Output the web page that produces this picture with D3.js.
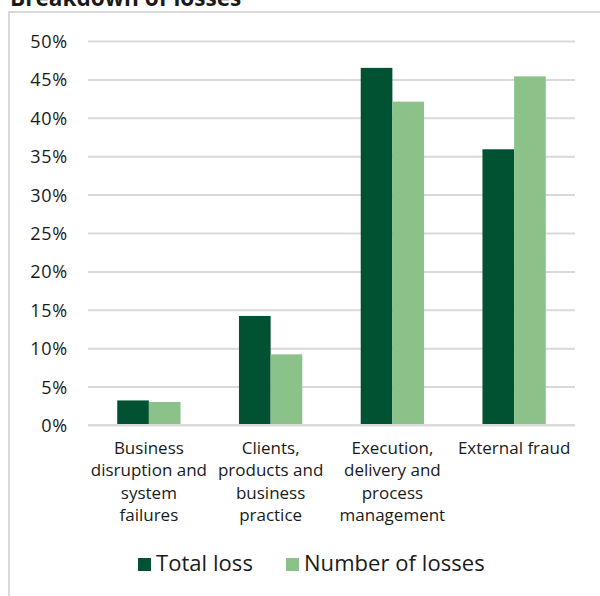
<!DOCTYPE html>
<html>
<head>
<meta charset="utf-8">
<script src="https://cdn.jsdelivr.net/npm/d3@7"></script>
<style>
  body { margin: 0; background: #fff; }
  svg text { font-family: "Open Sans", Lato, sans-serif; fill: #1a1a1a; }
</style>
</head>
<body>
<div id="chart"></div>
<script>
var categories = [
  ['Business', 'disruption and', 'system', 'failures'],
  ['Clients,', 'products and', 'business', 'practice'],
  ['Execution,', 'delivery and', 'process', 'management'],
  ['External fraud']
];
var seriesNames = ['Total loss', 'Number of losses'];
var totalLoss = [3.2, 14.2, 46.5, 35.9];
var numberOfLosses = [3.0, 9.2, 42.1, 45.4];
var yTicks = [0, 5, 10, 15, 20, 25, 30, 35, 40, 45, 50];

(function() {
  var width = 600, height = 596;
  var colors = ['#005233', '#8ac28a'];
  var left = 88, right = 575, top = 41, bottom = 425;

  var svg = d3.select('#chart').append('svg')
    .attr('width', width)
    .attr('height', height);

  // frame
  svg.append('rect')
    .attr('x', 9).attr('y', 12)
    .attr('width', 620).attr('height', 620)
    .attr('fill', 'none')
    .attr('stroke', '#d9d9d9')
    .attr('stroke-width', 2);

  svg.append('text')
    .attr('x', 10).attr('y', 6)
    .style('font-size', '22.6px')
    .style('font-weight', 'bold')
    .text('Breakdown of losses');

  var x0 = d3.scaleBand()
    .domain(d3.range(categories.length))
    .range([left, right]);

  var barW = x0.bandwidth() * 0.26;
  var x1 = d3.scaleBand()
    .domain([0, 1])
    .range([x0.bandwidth() / 2 - barW, x0.bandwidth() / 2 + barW]);

  var y = d3.scaleLinear().domain([0, 50]).range([bottom, top]);

  // gridlines
  var yAxis = d3.axisLeft(y)
    .tickValues(yTicks)
    .tickSize(-(right - left))
    .tickPadding(20)
    .tickFormat(function(d) { return d + '%'; });

  var gy = svg.append('g')
    .attr('transform', 'translate(' + left + ',0)')
    .call(yAxis);
  gy.select('.domain').remove();
  gy.selectAll('.tick line').attr('stroke', '#d9d9d9').attr('stroke-width', 2);
  gy.selectAll('.tick text')
    .attr('x', -20)
    .attr('dy', '0.36em')
    .style('font-size', '18px')
    .style('letter-spacing', '0.8px');

  var rows = categories.map(function(c, i) {
    return [totalLoss[i], numberOfLosses[i]];
  });

  var groups = svg.append('g').selectAll('g')
    .data(rows)
    .enter()
    .append('g')
    .attr('transform', function(d, i) { return 'translate(' + x0(i) + ',0)'; });

  groups.selectAll('rect')
    .data(function(d) { return d; })
    .enter()
    .append('rect')
    .attr('x', function(d, i) { return x1(i); })
    .attr('y', function(d) { return y(d); })
    .attr('width', x1.bandwidth())
    .attr('height', function(d) { return y(0) - y(d); })
    .attr('fill', function(d, i) { return colors[i]; });

  // baseline on top of bars
  svg.append('line')
    .attr('x1', left).attr('x2', right)
    .attr('y1', y(0)).attr('y2', y(0))
    .attr('stroke', '#d9d9d9')
    .attr('stroke-width', 2);

  // category labels
  categories.forEach(function(lines, i) {
    var t = svg.append('text')
      .attr('x', x0(i) + x0.bandwidth() / 2)
      .attr('y', 454)
      .attr('text-anchor', 'middle')
      .style('font-size', '17px');
    lines.forEach(function(l, j) {
      t.append('tspan')
        .attr('x', x0(i) + x0.bandwidth() / 2)
        .attr('dy', j === 0 ? 0 : 22.4)
        .text(l);
    });
  });

  // legend
  var legendX = [138, 286];
  seriesNames.forEach(function(name, i) {
    svg.append('rect')
      .attr('x', legendX[i]).attr('y', 558)
      .attr('width', 13).attr('height', 13)
      .attr('fill', colors[i]);
    svg.append('text')
      .attr('x', legendX[i] + 18)
      .attr('y', 571)
      .style('font-size', '22px')
      .style('letter-spacing', '0.05px')
      .text(name);
  });
})();
</script>
</body>
</html>
